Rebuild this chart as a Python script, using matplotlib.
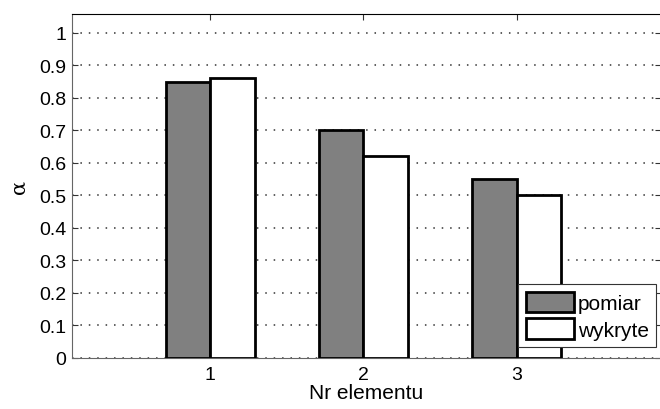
import matplotlib
matplotlib.use('Agg')
import matplotlib.pyplot as plt
import numpy as np

elements = [1, 2, 3]
pomiar = [0.85, 0.70, 0.55]
wykryte = [0.86, 0.62, 0.50]
yticks = [0, 0.1, 0.2, 0.3, 0.4, 0.5, 0.6, 0.7, 0.8, 0.9, 1]

plt.rcParams['font.family'] = ['Liberation Sans', 'DejaVu Sans']

fig = plt.figure(figsize=(6.6, 4.1), dpi=100)
ax = fig.add_axes([72 / 660, 51 / 410, 589 / 660, 344 / 410])

x = np.array(elements)
w = 0.29
ax.bar(x - w / 2, pomiar, width=w, color='#808080', edgecolor='black',
       linewidth=2, label='pomiar', zorder=3)
ax.bar(x + w / 2, wykryte, width=w, color='white', edgecolor='black',
       linewidth=2, label='wykryte', zorder=3)

ax.set_xlim(0.1, 3.94)
ax.set_ylim(0, 1.058)
ax.set_xticks(elements)
ax.set_yticks(yticks)
ax.set_yticklabels([('%g' % v) for v in yticks])
ax.yaxis.grid(True, linestyle=(0, (1, 4.5)), color='#333333', linewidth=1.1)
ax.set_axisbelow(True)
ax.tick_params(direction='in', length=4, top=True, right=True,
               labelsize=14, color='#333333', pad=4)
ax.tick_params(axis='x', pad=6)
for s in ['left', 'bottom']:
    ax.spines[s].set_color('#666666')
ax.spines['top'].set_color('black')

ax.set_xlabel('Nr elementu', fontsize=15, labelpad=0)
ax.set_ylabel('α', fontsize=15, labelpad=8, family='DejaVu Serif')

leg = ax.legend(loc='lower right', bbox_to_anchor=(584 / 589, 11 / 344),
                prop={'size': 15}, handlelength=2.3, handleheight=1.15,
                handletextpad=0.2, borderpad=0.35, labelspacing=0.25,
                fancybox=False, framealpha=1, edgecolor='#333333',
                borderaxespad=0)
leg.get_frame().set_linewidth(0.8)

plt.savefig('out.png', dpi=100)
